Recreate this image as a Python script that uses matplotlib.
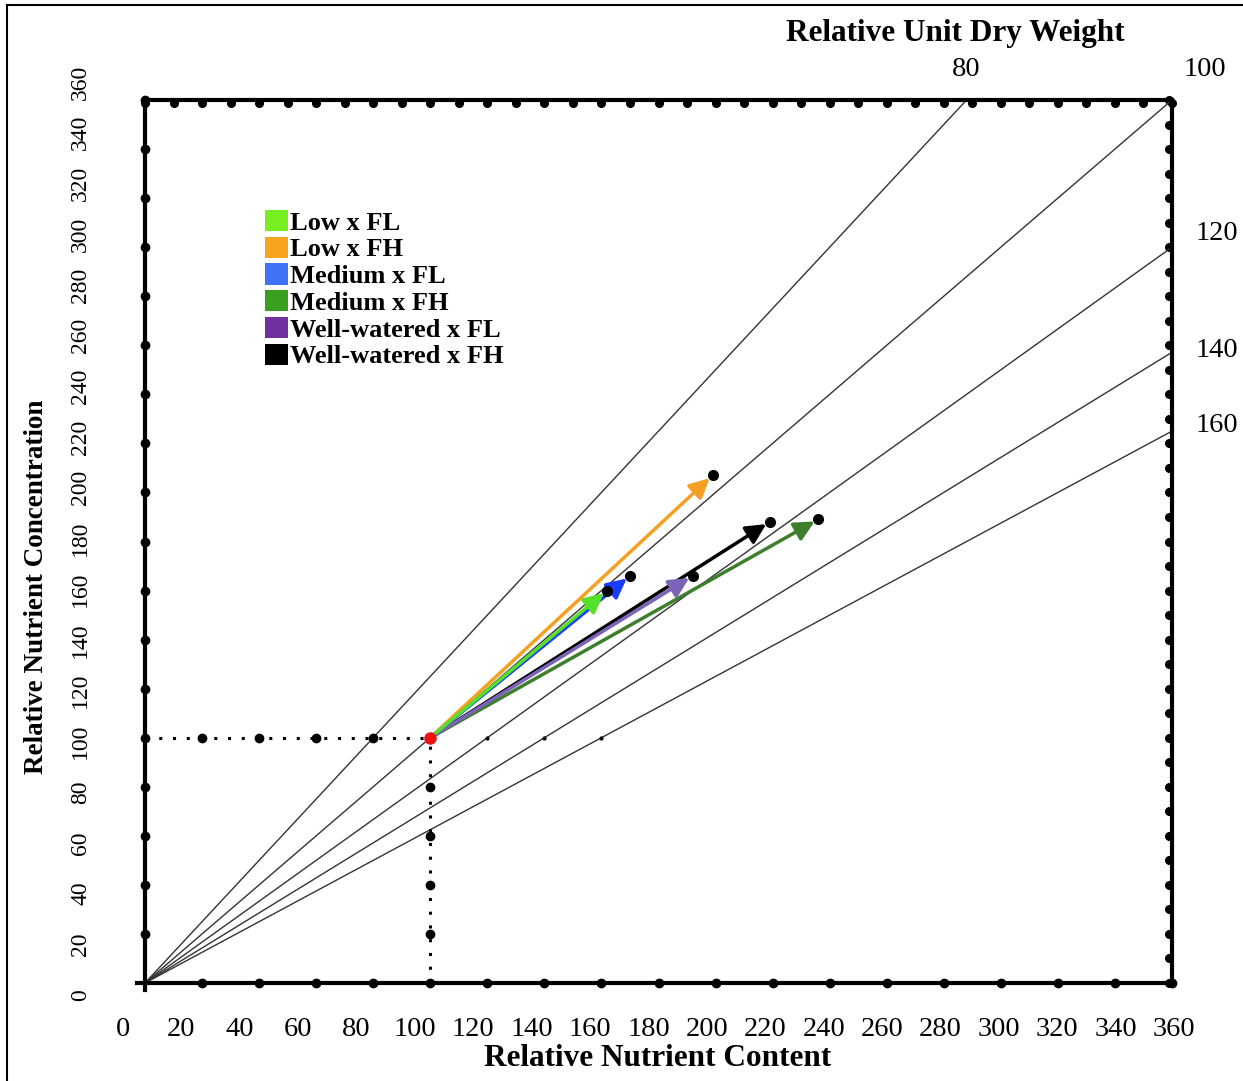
import numpy as np
import matplotlib.pyplot as plt
from matplotlib.patches import Patch
from matplotlib.lines import Line2D

plt.rcParams['font.family'] = ['Liberation Serif', 'DejaVu Serif']

# relative unit dry weight isolines (y = x * 100 / w)
weights = [80, 100, 120, 140, 160]
weight_offsets = [(0, 30), (33, 30), (45, 14), (45, 2), (45, 6)]  # label offsets in pixels

# treatment vectors, all starting from the reference point (100, 100)
treatments = ['Low x FL', 'Low x FH', 'Medium x FL', 'Medium x FH',
              'Well-watered x FL', 'Well-watered x FH']
content = [162, 199, 170, 236, 192, 219]
concentration = [160, 207, 166, 189, 166, 188]
arrow_colors = ['#55e02a', '#f5a022', '#1a3cff', '#3d7f2c', '#7a63b8', '#000000']
legend_colors = ['#77ee22', '#f8a41e', '#3f72f5', '#3a9e1e', '#7030a0', '#000000']
draw_order = [1, 3, 5, 4, 2, 0]

ref = 100
ticks = np.arange(0, 361, 20)
fine_ticks = np.arange(0, 361, 10)

W, H = 1243, 1081
fig = plt.figure(figsize=(W / 100, H / 100), dpi=100)

# separate axes that only carries the tick labels (labels sit on a slightly wider scale)
lab = fig.add_axes([123 / W, (H - 995) / H, 1051 / W, 913 / H])
lab.set_xlim(0, 360)
lab.set_ylim(0, 360)
lab.set_xticks(ticks)
lab.set_yticks(ticks)
lab.set_xticklabels([str(t) for t in ticks], fontsize=20.5)
lab.set_yticklabels([str(t) for t in ticks], fontsize=17, rotation=90, va='center')
lab.tick_params(length=0, pad=0)
lab.tick_params(axis='x', pad=16)
lab.tick_params(axis='y', pad=23)
for s in lab.spines.values():
    s.set_visible(False)
lab.patch.set_visible(False)

ax = fig.add_axes([145 / W, (H - 983) / H, 1027 / W, 883 / H])
ax.set_xlim(0, 360)
ax.set_ylim(0, 360)
ax.set_xticks([])
ax.set_yticks([])
for s in ax.spines.values():
    s.set_linewidth(3)
ax.patch.set_visible(False)

# dotted ticks on the frame
ax.plot(ticks[1:], np.zeros(len(ticks) - 1), 'o', color='black', ms=6, clip_on=False)
ax.plot(np.zeros(len(ticks) - 1), ticks[1:], 'o', color='black', ms=6, clip_on=False)
ax.plot(fine_ticks, np.full(len(fine_ticks), 358.8), 'o', color='black', ms=5.5, clip_on=False)
ax.plot(np.full(len(fine_ticks), 358.9), fine_ticks, 'o', color='black', ms=5.5, clip_on=False)
ax.plot([-2.8, 0], [0, 0], color='black', lw=3, clip_on=False)
ax.plot([0, 0], [-2.8, 0], color='black', lw=3, clip_on=False)

# isolines of relative unit dry weight
for w, off in zip(weights, weight_offsets):
    x_end = min(360, 360 * w / 100)
    y_end = x_end * 100 / w
    ax.plot([0, x_end], [0, y_end], color='#333333', lw=1.0)
    ax.annotate(str(w), xy=(x_end, y_end), xytext=off, textcoords='offset pixels',
                ha='center', va='center', fontsize=20.5, annotation_clip=False)

# reference dotted lines
ax.plot([0, ref], [ref, ref], color='black', lw=2.2, ls=(0, (1, 3.5)))
ax.plot([ref, ref], [0, ref], color='black', lw=2.2, ls=(0, (1, 3.5)))
ax.plot(ticks[1:5], np.full(4, ref), 'o', color='black', ms=6)
ax.plot(np.full(4, ref), ticks[1:5], 'o', color='black', ms=6)
ax.plot(ticks[6:9], np.full(3, ref), 'o', color='black', ms=2)

# treatment vectors
for i in draw_order:
    ax.annotate('', xy=(content[i], concentration[i]), xytext=(ref, ref),
                arrowprops=dict(arrowstyle='-|>', color=arrow_colors[i], lw=2.5,
                                shrinkA=0, shrinkB=3, mutation_scale=30))
ax.plot(content, concentration, 'o', color='black', ms=7, zorder=5)
ax.plot([ref], [ref], 'o', color='#ee1111', ms=8, zorder=6)

handles = [Patch(facecolor=c, edgecolor='none') for c in legend_colors]
ax.legend(handles, treatments, loc='upper left', bbox_to_anchor=(0.117, 0.8755),
          frameon=False, handlelength=0.85, handleheight=0.85, handletextpad=0.1,
          labelspacing=0.08, borderaxespad=0, borderpad=0,
          prop={'family': 'Liberation Serif', 'weight': 'bold', 'size': 19})

fig.text(658 / W, 1 - 1058 / H, 'Relative Nutrient Content', ha='center', va='center',
         fontsize=22.5, fontweight='bold')
fig.text(37 / W, 1 - 587 / H, 'Relative Nutrient Concentration', ha='center', va='center',
         fontsize=19.5, fontweight='bold', rotation=90)
fig.text(955 / W, 1 - 34 / H, 'Relative Unit Dry Weight', ha='center', va='center',
         fontsize=22.5, fontweight='bold')

# outer frame (only top and left edges visible in the crop)
fig.add_artist(Line2D([7 / W, 7 / W], [0, 1 - 5 / H], color='black', lw=1.5))
fig.add_artist(Line2D([7 / W, 1], [1 - 5 / H, 1 - 5 / H], color='black', lw=1.5))

fig.savefig('out.png', dpi=100)
